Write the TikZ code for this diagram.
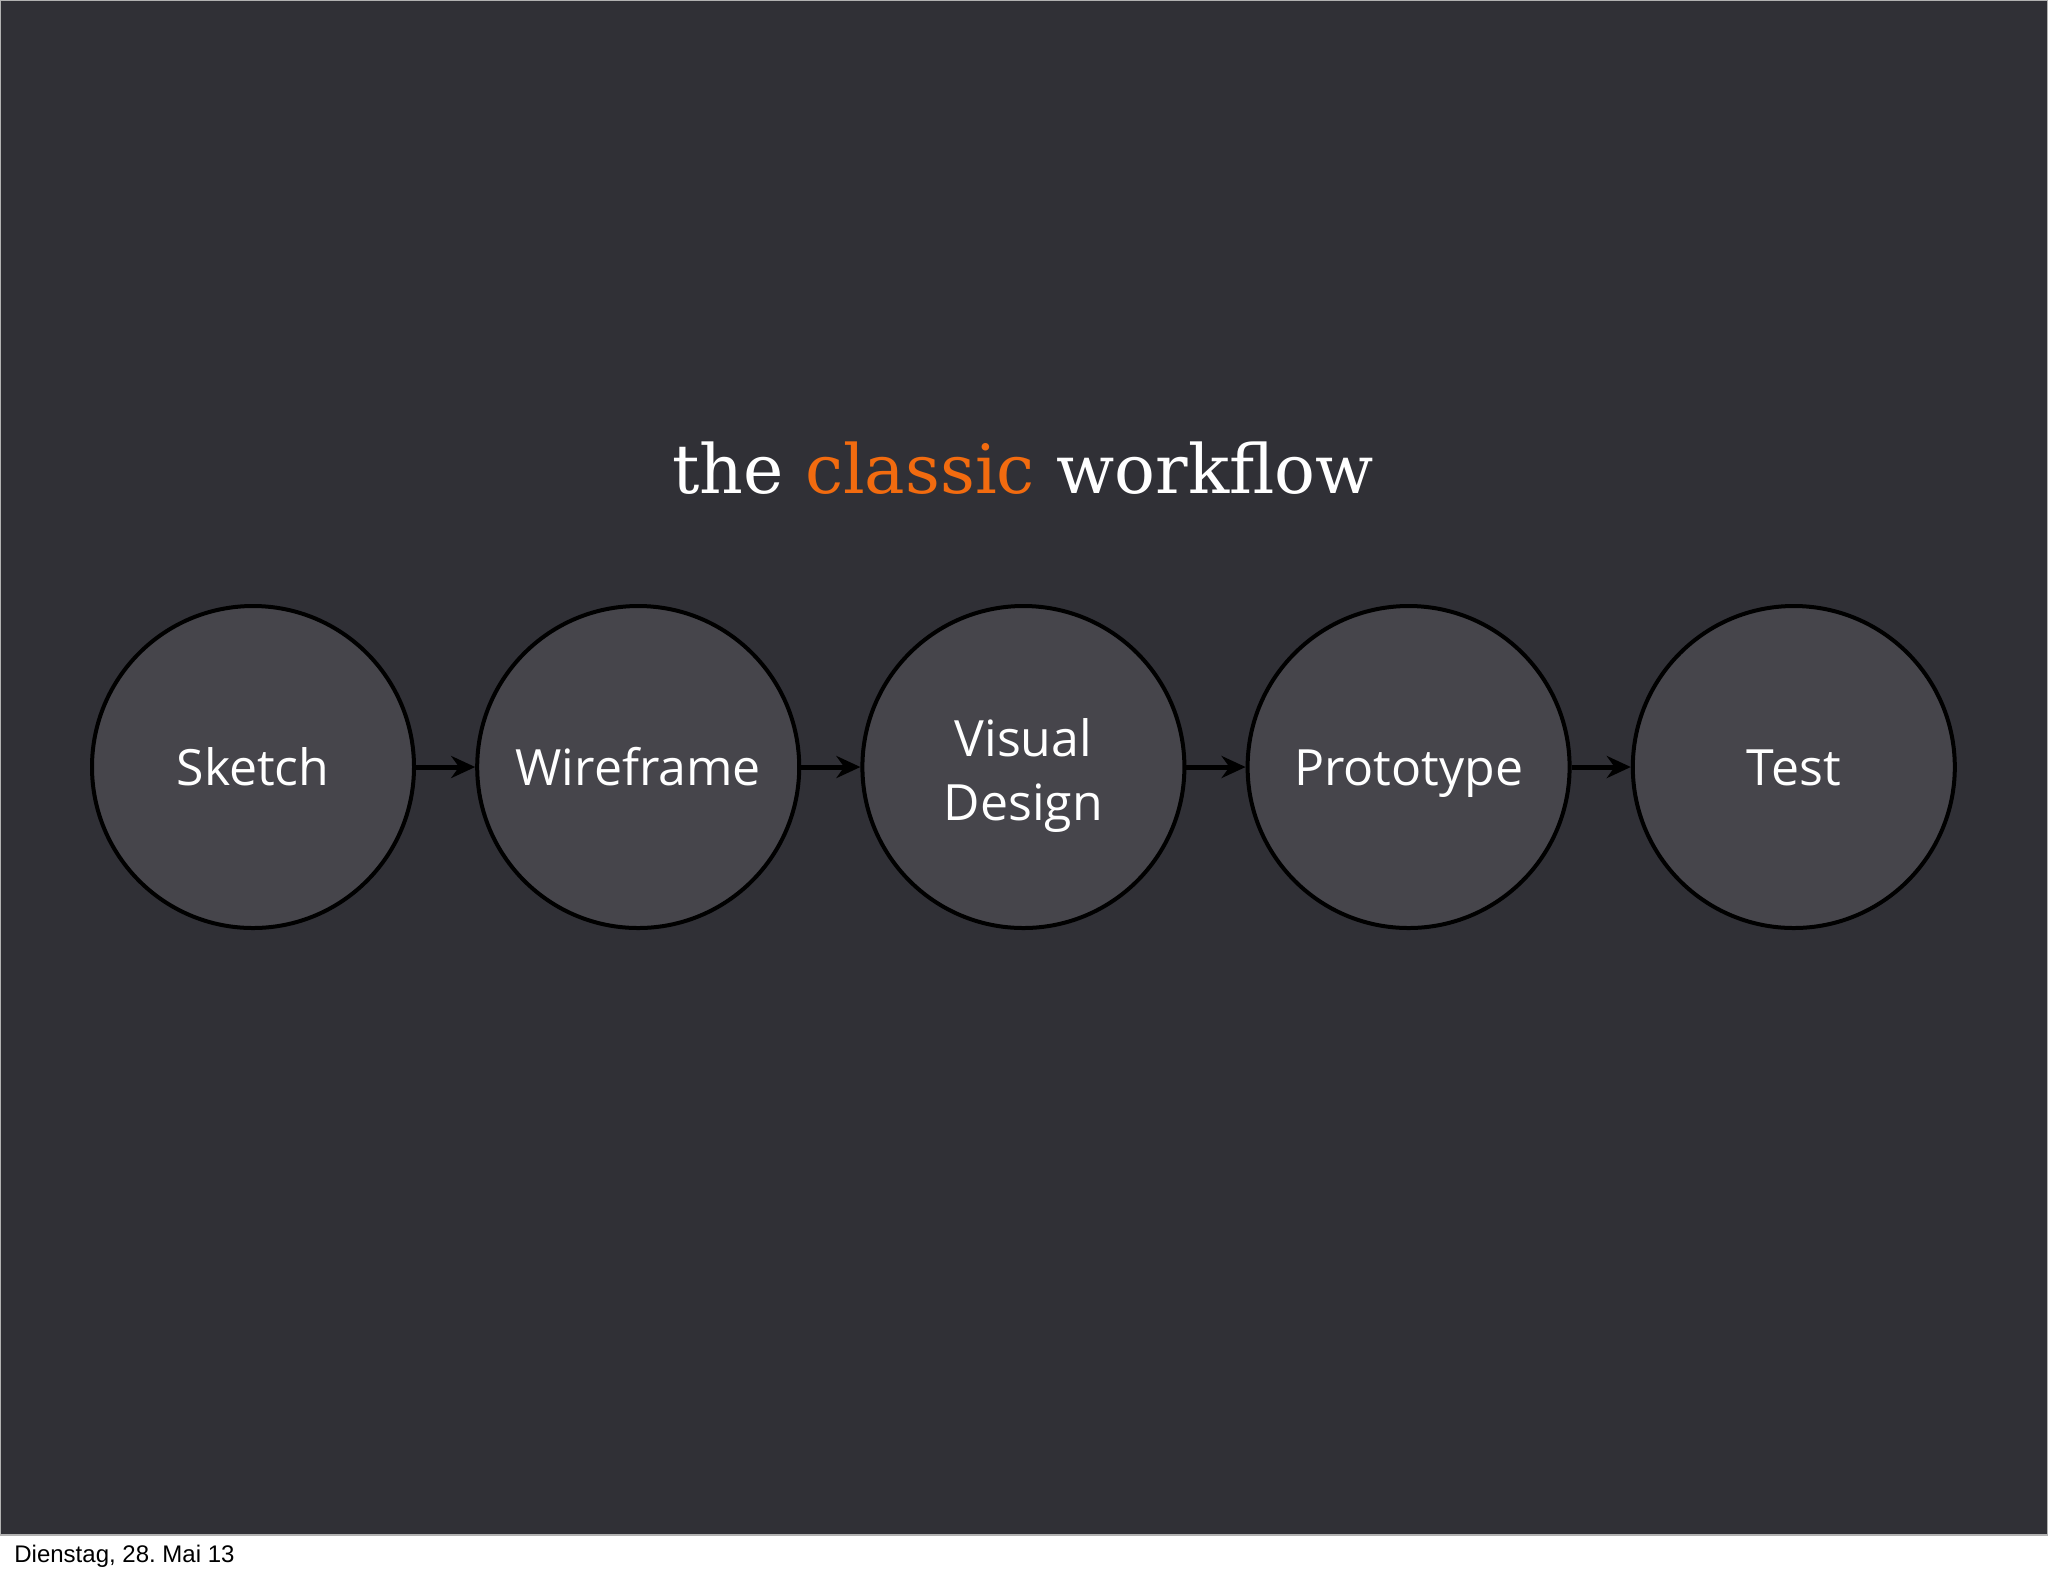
\documentclass[tikz,border=0pt]{standalone}
\usepackage{fontspec}
\setmainfont{Open Sans}
\newfontfamily\slabfont{DejaVu Serif}
\newfontfamily\footfont{Liberation Sans}
\usetikzlibrary{positioning,arrows.meta}
\definecolor{slidebg}{HTML}{303036}
\definecolor{stepfill}{HTML}{46454B}
\definecolor{accent}{HTML}{F26B0F}
\tikzset{
    stepnode/.style={circle, draw=black, line width=2pt, fill=stepfill,
        minimum size=161pt, inner sep=0pt, text=white, align=center,
        execute at begin node={\rule[-7pt]{0pt}{32pt}},
        font=\fontsize{25}{32}\selectfont},
    flowarrow/.style={-{Stealth[length=12pt,width=11pt]}, line width=2.5pt, black}
}

\begin{document}
\begin{tikzpicture}[x=0.5pt, y=-0.5pt, node distance=29.6pt]
    % slide and footer
    \useasboundingbox (0,0) rectangle (2048,1576);
    \fill[white] (0,0) rectangle (2048,1576);
    \filldraw[fill=slidebg, draw=gray!60, line width=0.6pt] (0,0) rectangle (2048,1535);
    \node[anchor=base west, inner sep=0pt, font=\footfont\fontsize{12}{14}\selectfont] (date) at (14,1562) {Dienstag, 28.\ Mai 13};
    % title
    \node[text=white, font=\slabfont\fontsize{34}{40}\selectfont] (title) at (1023,468) {the {\color{accent}classic} workflow};
    % the five steps
    \node[stepnode] (sketch) at (253,767) {Sketch};
    \node[stepnode, right=of sketch] (wireframe) {Wireframe};
    \node[stepnode, right=of wireframe] (visual) {\rule{0pt}{28pt}Visual\\Design};
    \node[stepnode, right=of visual] (prototype) {Prototype};
    \node[stepnode, right=of prototype] (test) {Test};
    \draw[flowarrow] (sketch) -- (wireframe);
    \draw[flowarrow] (wireframe) -- (visual);
    \draw[flowarrow] (visual) -- (prototype);
    \draw[flowarrow] (prototype) -- (test);
\end{tikzpicture}
\end{document}
